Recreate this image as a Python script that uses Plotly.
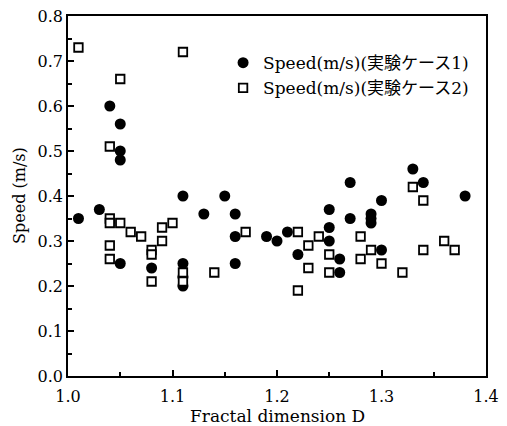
import plotly.graph_objects as go

# Series 1: Speed(m/s)(実験ケース1) - filled circles
x1 = [1.01, 1.03, 1.04, 1.05, 1.05, 1.05, 1.05, 1.08, 1.11, 1.11, 1.11, 1.11,
      1.13, 1.15, 1.16, 1.16, 1.16, 1.19, 1.20, 1.21, 1.22, 1.25, 1.25, 1.25,
      1.26, 1.26, 1.27, 1.27, 1.29, 1.29, 1.29, 1.30, 1.30, 1.33, 1.34, 1.38]
y1 = [0.35, 0.37, 0.60, 0.56, 0.50, 0.48, 0.25, 0.24, 0.40, 0.25, 0.22, 0.20,
      0.36, 0.40, 0.36, 0.31, 0.25, 0.31, 0.30, 0.32, 0.27, 0.37, 0.33, 0.30,
      0.26, 0.23, 0.43, 0.35, 0.36, 0.35, 0.34, 0.39, 0.28, 0.46, 0.43, 0.40]

# Series 2: Speed(m/s)(実験ケース2) - open squares
x2 = [1.01, 1.04, 1.04, 1.04, 1.04, 1.04, 1.05, 1.05, 1.06, 1.07, 1.08, 1.08,
      1.08, 1.09, 1.09, 1.10, 1.11, 1.11, 1.11, 1.14, 1.17, 1.22, 1.22, 1.23,
      1.23, 1.24, 1.25, 1.25, 1.28, 1.28, 1.29, 1.30, 1.32, 1.33, 1.34, 1.34,
      1.36, 1.37]
y2 = [0.73, 0.51, 0.35, 0.34, 0.29, 0.26, 0.66, 0.34, 0.32, 0.31, 0.28, 0.27,
      0.21, 0.33, 0.30, 0.34, 0.72, 0.23, 0.21, 0.23, 0.32, 0.32, 0.19, 0.29,
      0.24, 0.31, 0.27, 0.23, 0.31, 0.26, 0.28, 0.25, 0.23, 0.42, 0.39, 0.28,
      0.30, 0.28]

name1 = "Speed(m/s)(実験ケース1)"
name2 = "Speed(m/s)(実験ケース2)"
x_title = "Fractal dimension D"
y_title = "Speed (m/s)"
x_ticks = [1.0, 1.1, 1.2, 1.3, 1.4]
y_ticks = [0.0, 0.1, 0.2, 0.3, 0.4, 0.5, 0.6, 0.7, 0.8]

FONT = "DejaVu Serif, Noto Sans CJK JP, serif"

fig = go.Figure()
fig.add_trace(go.Scatter(
    x=x1, y=y1, mode="markers", name=name1,
    marker=dict(symbol="circle", size=11, color="black", line=dict(width=0)),
))
fig.add_trace(go.Scatter(
    x=x2, y=y2, mode="markers", name=name2,
    marker=dict(symbol="square", size=8.5, color="white",
                line=dict(width=1.8, color="black")),
))

axis_common = dict(
    showgrid=False, zeroline=False, showline=True, linecolor="black",
    linewidth=1.5, mirror=True, ticks="inside", ticklen=6, tickwidth=1.5,
    tickcolor="black", tickfont=dict(family=FONT, size=16, color="black"),
    automargin=False,
)

fig.update_xaxes(
    range=[1.0, 1.4], tickvals=x_ticks, ticktext=[f"{v:.1f}" for v in x_ticks],
    minor=dict(dtick=0.05, tick0=1.0, ticks="inside", ticklen=4, tickwidth=1.5,
               tickcolor="black", showgrid=False),
    ticklabelstandoff=5,
    **axis_common,
)
fig.update_yaxes(
    range=[0.0, 0.8], tickvals=y_ticks, ticktext=[f"{v:.1f}" for v in y_ticks],
    minor=dict(dtick=0.05, tick0=0.0, ticks="inside", ticklen=4, tickwidth=1.5,
               tickcolor="black", showgrid=False),
    **axis_common,
)

fig.add_annotation(text=x_title, xref="paper", yref="paper", x=0.5, y=0,
                   xanchor="center", yanchor="bottom", yshift=-51, showarrow=False,
                   borderpad=0, font=dict(family=FONT, size=17, color="black"))
fig.add_annotation(text=y_title, xref="paper", yref="paper", x=0, y=0.5,
                   xanchor="center", yanchor="middle", xshift=-49, textangle=-90,
                   showarrow=False, font=dict(family=FONT, size=16, color="black"))

fig.update_layout(
    width=507, height=426,
    margin=dict(l=68, r=21, t=16, b=50),
    paper_bgcolor="white", plot_bgcolor="white",
    font=dict(family=FONT, size=16, color="black"),
    showlegend=True,
    legend=dict(x=0.371, y=0.919, xanchor="left", yanchor="top",
                bgcolor="rgba(0,0,0,0)", borderwidth=0,
                font=dict(family=FONT, size=17, color="black"),
                tracegroupgap=0, itemsizing="trace"),
)

fig.write_html("out.html", config={"displayModeBar": False},
               post_script="document.body.style.margin='0';document.body.style.overflow='hidden';")
